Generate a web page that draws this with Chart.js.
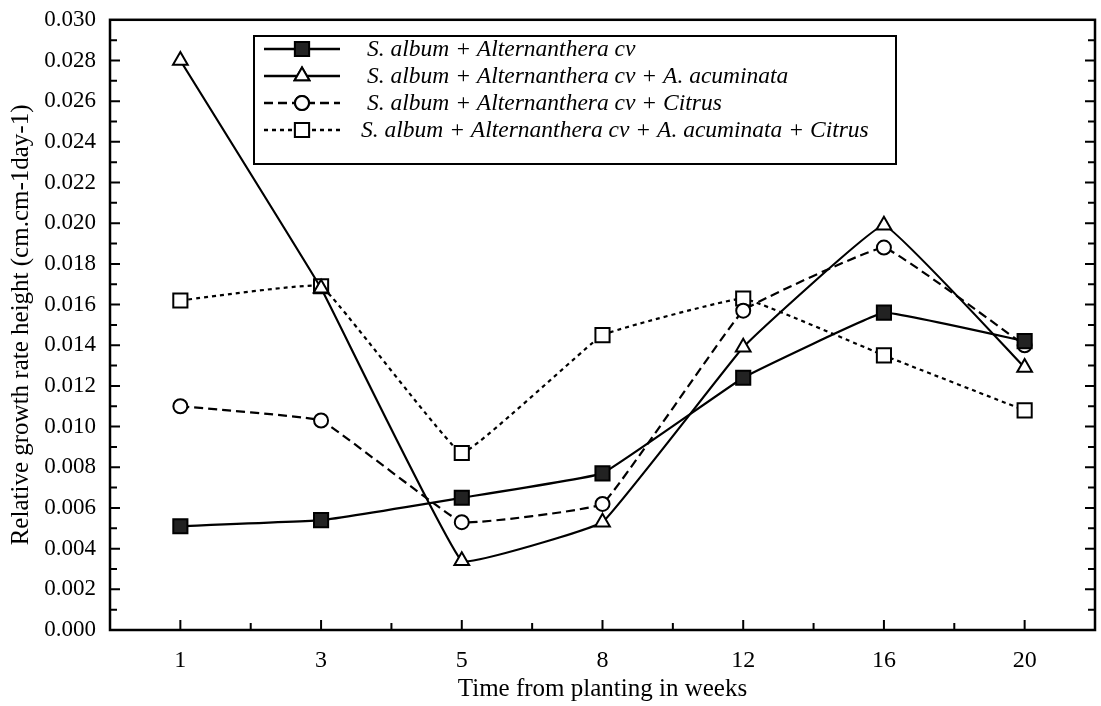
<!DOCTYPE html>
<html>
<head>
<meta charset="utf-8">
<script src="https://cdn.jsdelivr.net/npm/chart.js@4/dist/chart.umd.min.js"></script>
<style>
  html, body { margin: 0; padding: 0; background: #fff; overflow: hidden; }
  /* slightly wider than the window: the last x label reserves 12px on the right */
  #wrap { width: 1107px; height: 706px; position: relative; }
  canvas { display: block; }
</style>
</head>
<body>
<div id="wrap"><canvas id="growth"></canvas></div>
<script>
// weeks after planting
const weeks = ['1', '3', '5', '8', '12', '16', '20'];

const seriesNames = [
    'S. album + Alternanthera cv',
    'S. album + Alternanthera cv + A. acuminata',
    'S. album + Alternanthera cv + Citrus',
    'S. album + Alternanthera cv + A. acuminata + Citrus'
];

const rgrAlt = [0.0051, 0.0054, 0.0065, 0.0077, 0.0124, 0.0156, 0.0142];
const rgrAltAcum = [0.0280, 0.0168, 0.0034, 0.0053, 0.0139, 0.0199, 0.0129];
const rgrAltCitrus = [0.0110, 0.0103, 0.0053, 0.0062, 0.0157, 0.0188, 0.0140];
const rgrAltAcumCitrus = [0.0162, 0.0169, 0.0087, 0.0145, 0.0163, 0.0135, 0.0108];

const yTicks = [0, 0.002, 0.004, 0.006, 0.008, 0.010, 0.012, 0.014, 0.016,
    0.018, 0.020, 0.022, 0.024, 0.026, 0.028, 0.030];

const serif = "'Liberation Serif', 'DejaVu Serif', serif";

// box frame + inward tick marks like the original plot
const frameTicks = {
    id: 'frameTicks',
    beforeDatasetsDraw(chart) {
        const {ctx, chartArea: a, scales: {x, y}} = chart;
        ctx.save();
        ctx.strokeStyle = '#000';
        ctx.lineWidth = 2.5;
        ctx.strokeRect(a.left, a.top, a.right - a.left, a.bottom - a.top);
        ctx.lineWidth = 2;
        ctx.beginPath();
        for (let k = 1; k < 30; k++) {
            const py = y.getPixelForValue(k / 1000);
            const len = k % 2 === 0 ? 10 : 7;
            ctx.moveTo(a.left, py); ctx.lineTo(a.left + len, py);
            ctx.moveTo(a.right, py); ctx.lineTo(a.right - len, py);
        }
        for (let i = 0; i < weeks.length; i++) {
            const px = x.getPixelForValue(i);
            ctx.moveTo(px, a.bottom); ctx.lineTo(px, a.bottom - 10);
            if (i < weeks.length - 1) {
                const mx = (px + x.getPixelForValue(i + 1)) / 2;
                ctx.moveTo(mx, a.bottom); ctx.lineTo(mx, a.bottom - 7);
            }
        }
        ctx.stroke();
        ctx.restore();
    }
};

// legend box inside the plot, line sample + marker + italic label
const boxLegend = {
    id: 'boxLegend',
    afterDraw(chart) {
        const {ctx} = chart;
        const left = 254, top = 36, right = 896, bottom = 164;
        ctx.save();
        ctx.fillStyle = '#fff';
        ctx.fillRect(left, top, right - left, bottom - top);
        ctx.strokeStyle = '#000';
        ctx.lineWidth = 2;
        ctx.strokeRect(left, top, right - left, bottom - top);
        chart.data.datasets.forEach((ds, i) => {
            const cy = 49 + i * 27;
            ctx.strokeStyle = '#000';
            ctx.lineWidth = 2.5;
            ctx.setLineDash(ds.borderDash || []);
            ctx.beginPath();
            ctx.moveTo(264, cy); ctx.lineTo(340, cy);
            ctx.stroke();
            ctx.setLineDash([]);
            ctx.fillStyle = ds.pointBackgroundColor;
            ctx.lineWidth = 2;
            Chart.helpers.drawPoint(ctx, {
                pointStyle: ds.pointStyle,
                radius: ds.pointRadius,
                rotation: 0,
                borderWidth: 2
            }, 302, cy);
            ctx.fill();
            ctx.stroke();
            ctx.fillStyle = '#000';
            ctx.font = 'italic 23.5px ' + serif;
            ctx.textBaseline = 'middle';
            ctx.fillText(ds.label, i === 3 ? 361 : 367, cy + 1);
        });
        ctx.restore();
    }
};

function series(label, data, style, radius, fill, dash) {
    return {
        label: label,
        data: data,
        borderColor: '#000',
        borderWidth: 2.2,
        borderDash: dash,
        tension: 0.07,
        fill: false,
        pointStyle: style,
        pointRadius: radius,
        pointHoverRadius: radius,
        pointBackgroundColor: fill,
        pointBorderColor: '#000',
        pointBorderWidth: 2
    };
}

const ctx = document.getElementById('growth').getContext('2d');

const growthChart = new Chart(ctx, {
    type: 'line',
    data: {
        labels: weeks,
        datasets: [
            series(seriesNames[0], rgrAlt, 'rect', 10, '#222', []),
            series(seriesNames[1], rgrAltAcum, 'triangle', 8.5, '#fff', []),
            series(seriesNames[2], rgrAltCitrus, 'circle', 7, '#fff', [9, 5]),
            series(seriesNames[3], rgrAltAcumCitrus, 'rect', 10, '#fff', [4, 4])
        ]
    },
    options: {
        responsive: true,
        maintainAspectRatio: false,
        animation: false,
        layout: { padding: { top: 19, right: 0, left: 0, bottom: 0 } },
        plugins: {
            legend: { display: false },
            tooltip: { enabled: false }
        },
        scales: {
            x: {
                type: 'category',
                offset: true,
                grid: { display: false },
                border: { display: false },
                ticks: {
                    color: '#000',
                    padding: 8,
                    font: { family: serif, size: 24 }
                },
                title: {
                    display: true,
                    text: 'Time from planting in weeks',
                    color: '#000',
                    font: { family: serif, size: 25 },
                    padding: { top: 0, bottom: 2 }
                },
                afterFit(s) {
                    s.height = 76;
                }
            },
            y: {
                min: 0,
                max: 0.03,
                grid: { display: false },
                border: { display: false },
                afterBuildTicks(s) { s.ticks = yTicks.map(v => ({ value: v })); },
                ticks: {
                    color: '#000',
                    padding: 6,
                    font: { family: serif, size: 23 },
                    callback: v => Number(v).toFixed(3)
                },
                title: {
                    display: true,
                    text: 'Relative growth rate height (cm.cm-1day-1)',
                    color: '#000',
                    font: { family: serif, size: 25 },
                    padding: { top: 6, bottom: 0 }
                },
                afterFit(s) { s.width = 110; }
            }
        }
    },
    plugins: [frameTicks, boxLegend]
});
</script>
</body>
</html>
